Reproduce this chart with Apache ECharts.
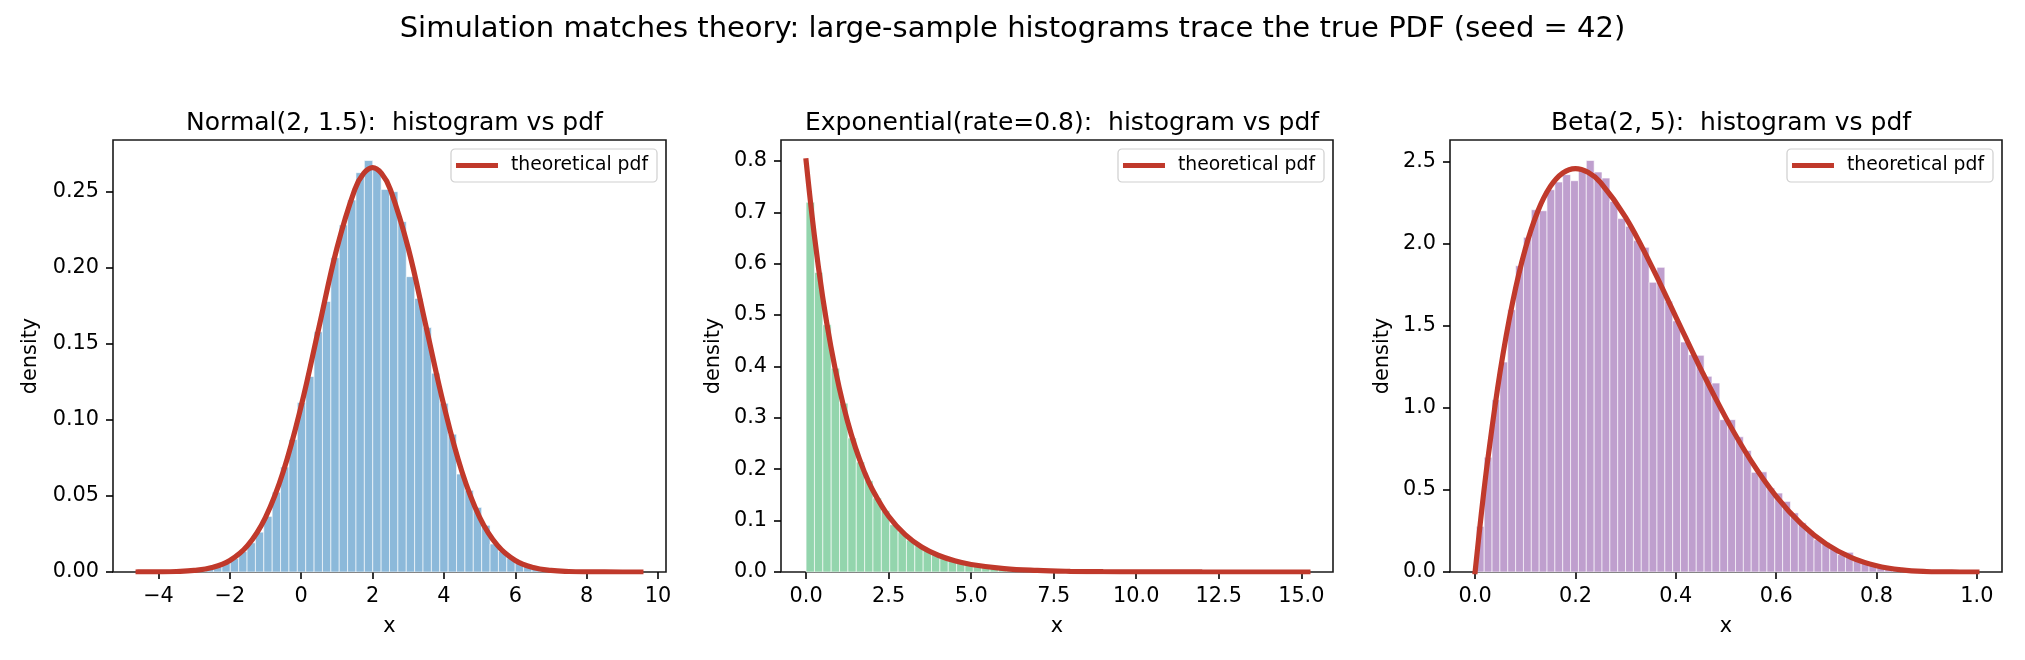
<!DOCTYPE html>
<html>
<head>
<meta charset="utf-8">
<title>Simulation matches theory</title>
<script src="https://cdn.jsdelivr.net/npm/echarts@6/dist/echarts.min.js"></script>
<style>
  html, body { margin: 0; padding: 0; background: #fff; }
  #chart { width: 2025px; height: 660px; }
</style>
</head>
<body>
<div id="chart"></div>
<script>
// histogram heights (density), 60 equal bins per panel
const normalBinStart = -4.57;
const normalBinWidth = 0.2348;
const normalHist = [
  0.0001, 0, 0.0001, 0.0001, 0.0002, 0.0004, 0.0008, 0.0014, 0.0023, 0.0037,
  0.0058, 0.0089, 0.0135, 0.0192, 0.0262, 0.0366, 0.0525, 0.0690, 0.0872, 0.1115,
  0.1286, 0.1580, 0.1780, 0.2068, 0.2283, 0.2447, 0.2627, 0.2707, 0.2653, 0.2517,
  0.2502, 0.2305, 0.1943, 0.1800, 0.1608, 0.1308, 0.1110, 0.0907, 0.0644, 0.0537,
  0.0425, 0.0307, 0.0184, 0.0136, 0.0092, 0.0060, 0.0038, 0.0024, 0.0015, 0.0009,
  0.0005, 0.0003, 0.0002, 0.0001, 0.0001, 0, 0, 0, 0, 0.0001
];

const expBinStart = 0.0;
const expBinWidth = 0.2533;
const expHist = [
  0.7194, 0.5826, 0.4810, 0.3966, 0.3286, 0.2605, 0.2139, 0.1776, 0.1439, 0.1192,
  0.0920, 0.0778, 0.0620, 0.0515, 0.0418, 0.0338, 0.0279, 0.0224, 0.0186, 0.0149,
  0.0124, 0.0099, 0.0082, 0.0066, 0.0054, 0.0044, 0.0036, 0.0029, 0.0024, 0.0020,
  0.0016, 0.0013, 0.0011, 0.0009, 0.0007, 0.0006, 0.0005, 0.0004, 0.0003, 0.0003,
  0.0002, 0.0002, 0.0001, 0.0001, 0.0001, 0.0001, 0, 0.0001, 0, 0,
  0, 0, 0, 0, 0, 0, 0, 0, 0, 0.0001
];

const betaBinStart = 0.0025;
const betaBinWidth = 0.01565;
const betaHist = [
  0.278, 0.699, 1.050, 1.279, 1.598, 1.866, 2.039, 2.207, 2.201, 2.329,
  2.376, 2.421, 2.384, 2.451, 2.507, 2.437, 2.400, 2.258, 2.153, 2.106,
  2.019, 1.978, 1.765, 1.856, 1.649, 1.530, 1.401, 1.324, 1.320, 1.192,
  1.151, 0.928, 0.928, 0.824, 0.740, 0.607, 0.610, 0.512, 0.481, 0.430,
  0.360, 0.300, 0.250, 0.197, 0.180, 0.142, 0.106, 0.120, 0.075, 0.058,
  0.045, 0.033, 0.024, 0.016, 0.011, 0.007, 0.0045, 0.0025, 0.0012, 0.0006
];

// theoretical pdf curves
const normalPdfX = [-4.57, -4, -3.5, -3, -2.5, -2, -1.5, -1, -0.5, 0, 0.5, 1, 1.5, 1.75, 2, 2.25, 2.5, 3, 3.5, 4, 4.5, 5, 5.5, 6, 6.5, 7, 7.5, 8, 9, 9.518];
const normalPdfY = [0.00002, 0.00009, 0.00032, 0.00103, 0.00295, 0.0076, 0.0175, 0.0360, 0.0663, 0.1093, 0.1613, 0.2130, 0.2516, 0.2622, 0.2660, 0.2622, 0.2516, 0.2130, 0.1613, 0.1093, 0.0663, 0.0360, 0.0175, 0.0076, 0.00295, 0.00103, 0.00032, 0.00009, 0.000004, 0];

const expPdfX = [0, 0.25, 0.5, 0.75, 1, 1.25, 1.5, 1.75, 2, 2.5, 3, 3.5, 4, 4.5, 5, 6, 7, 8, 9, 10, 12, 15.2];
const expPdfY = [0.800, 0.655, 0.536, 0.439, 0.3595, 0.2943, 0.2410, 0.1973, 0.1615, 0.1083, 0.0726, 0.0486, 0.0326, 0.0219, 0.0147, 0.0066, 0.0030, 0.0013, 0.0006, 0.00027, 0.00005, 0.000004];

const betaPdfX = [0, 0.0125, 0.025, 0.05, 0.075, 0.1, 0.125, 0.15, 0.175, 0.2, 0.225, 0.25, 0.3, 0.35, 0.4, 0.45, 0.5, 0.55, 0.6, 0.65, 0.7, 0.75, 0.8, 0.85, 0.9, 0.95, 1.0];
const betaPdfY = [0, 0.357, 0.678, 1.222, 1.647, 1.968, 2.198, 2.349, 2.432, 2.458, 2.435, 2.373, 2.161, 1.874, 1.555, 1.235, 0.9375, 0.677, 0.461, 0.293, 0.170, 0.088, 0.0384, 0.0129, 0.0027, 0.0002, 0];

// ticks
const normalXTicks = [-4, -2, 0, 2, 4, 6, 8, 10];
const normalYTicks = [0, 0.05, 0.10, 0.15, 0.20, 0.25];
const expXTicks = [0, 2.5, 5, 7.5, 10, 12.5, 15];
const expYTicks = [0, 0.1, 0.2, 0.3, 0.4, 0.5, 0.6, 0.7, 0.8];
const betaXTicks = [0, 0.2, 0.4, 0.6, 0.8, 1.0];
const betaYTicks = [0, 0.5, 1.0, 1.5, 2.0, 2.5];

const FONT = '"DejaVu Sans", "Liberation Sans", sans-serif';
const RED = '#c0392b';

function binRows(start, width, heights) {
  return heights.map((h, i) => [start + i * width, start + (i + 1) * width, h]);
}

function zipXY(xs, ys) {
  return xs.map((x, i) => [x, ys[i]]);
}

function histSeries(idx, rows, color) {
  return {
    type: 'custom',
    xAxisIndex: idx,
    yAxisIndex: idx,
    data: rows,
    encode: { x: [0, 1], y: 2 },
    z: 1,
    silent: true,
    renderItem: function (params, api) {
      const p0 = api.coord([api.value(0), 0]);
      const p1 = api.coord([api.value(1), api.value(2)]);
      return {
        type: 'rect',
        shape: { x: p0[0], y: p1[1], width: p1[0] - p0[0], height: p0[1] - p1[1] },
        style: { fill: color, stroke: 'rgba(255,255,255,0.6)', lineWidth: 1 }
      };
    }
  };
}

function pdfSeries(idx, pts) {
  return {
    type: 'line',
    name: 'theoretical pdf',
    xAxisIndex: idx,
    yAxisIndex: idx,
    data: pts,
    showSymbol: false,
    smooth: 0.4,
    z: 3,
    color: RED,
    lineStyle: { color: RED, width: 5.2, cap: 'square' }
  };
}

function xAxisOf(idx, min, max, ticks, fmt) {
  return {
    gridIndex: idx, type: 'value', min: min, max: max,
    name: 'x', nameLocation: 'middle', nameGap: 44,
    nameTextStyle: { fontFamily: FONT, fontSize: 20.8, color: '#000' },
    axisLine: { show: false, onZero: false },
    splitLine: { show: false },
    axisTick: { show: true, length: 7, customValues: ticks, lineStyle: { color: '#000', width: 1.6 } },
    axisLabel: { customValues: ticks, margin: 14, fontFamily: FONT, fontSize: 20.8, color: '#000', formatter: fmt }
  };
}

function yAxisOf(idx, max, ticks, fmt, gap) {
  return {
    gridIndex: idx, type: 'value', min: 0, max: max,
    name: 'density', nameLocation: 'middle', nameGap: gap,
    nameTextStyle: { fontFamily: FONT, fontSize: 20.8, color: '#000' },
    axisLine: { show: false, onZero: false },
    splitLine: { show: false },
    axisTick: { show: true, length: 7, customValues: ticks, lineStyle: { color: '#000', width: 1.6 } },
    axisLabel: { customValues: ticks, margin: 14, fontFamily: FONT, fontSize: 20.8, color: '#000', formatter: fmt }
  };
}

function legendOf(right) {
  return {
    right: right, top: 149,
    orient: 'vertical',
    data: [{ name: 'theoretical pdf', icon: 'rect' }],
    itemWidth: 42, itemHeight: 5,
    padding: [7, 9, 7, 5],
    backgroundColor: 'rgba(255,255,255,0.8)',
    borderColor: '#cfcfcf', borderWidth: 1.2, borderRadius: 4,
    selectedMode: false,
    textStyle: { fontFamily: FONT, fontSize: 18.75, color: '#000', padding: [0, 0, 0, 8] }
  };
}

const minus = v => String(v).replace('-', '\u2212');
const fixed = n => v => minus(v.toFixed(n));

const grids = [
  { left: 113, top: 140, width: 553, height: 432 },
  { left: 781, top: 140, width: 552, height: 432 },
  { left: 1450, top: 140, width: 552, height: 432 }
];

const chart = echarts.init(document.getElementById('chart'), null, { renderer: 'canvas' });

chart.setOption({
  backgroundColor: '#ffffff',
  animation: false,
  textStyle: { fontFamily: FONT },
  title: [
    { text: 'Simulation matches theory: large-sample histograms trace the true PDF (seed = 42)',
      left: 'center', top: 10,
      textStyle: { fontFamily: FONT, fontSize: 29, fontWeight: 'normal', color: '#000', lineHeight: 29 } },
    { text: 'Normal(2, 1.5):  histogram vs pdf', left: 389.5, top: 106, textAlign: 'center',
      textStyle: { fontFamily: FONT, fontSize: 25, fontWeight: 'normal', color: '#000', lineHeight: 25 } },
    { text: 'Exponential(rate=0.8):  histogram vs pdf', left: 1057, top: 106, textAlign: 'center',
      textStyle: { fontFamily: FONT, fontSize: 25, fontWeight: 'normal', color: '#000', lineHeight: 25 } },
    { text: 'Beta(2, 5):  histogram vs pdf', left: 1726, top: 106, textAlign: 'center',
      textStyle: { fontFamily: FONT, fontSize: 25, fontWeight: 'normal', color: '#000', lineHeight: 25 } }
  ],
  legend: [legendOf(1368), legendOf(701), legendOf(32)],
  grid: grids.map(g => Object.assign({ show: true, borderColor: '#1a1a1a', borderWidth: 1.6, backgroundColor: 'transparent' }, g)),
  xAxis: [
    xAxisOf(0, -5.274, 10.222, normalXTicks, v => minus(String(v))),
    xAxisOf(1, -0.76, 15.96, expXTicks, fixed(1)),
    xAxisOf(2, -0.05, 1.05, betaXTicks, fixed(1))
  ],
  yAxis: [
    yAxisOf(0, 0.2842, normalYTicks, fixed(2), 72),
    yAxisOf(1, 0.8406, expYTicks, fixed(1), 57),
    yAxisOf(2, 2.632, betaYTicks, fixed(1), 57)
  ],
  series: [
    histSeries(0, binRows(normalBinStart, normalBinWidth, normalHist), '#8cb9da'),
    histSeries(1, binRows(expBinStart, expBinWidth, expHist), '#93d5ad'),
    histSeries(2, binRows(betaBinStart, betaBinWidth, betaHist), '#bf9fce'),
    pdfSeries(0, zipXY(normalPdfX, normalPdfY)),
    pdfSeries(1, zipXY(expPdfX, expPdfY)),
    pdfSeries(2, zipXY(betaPdfX, betaPdfY))
  ]
});
</script>
</body>
</html>
